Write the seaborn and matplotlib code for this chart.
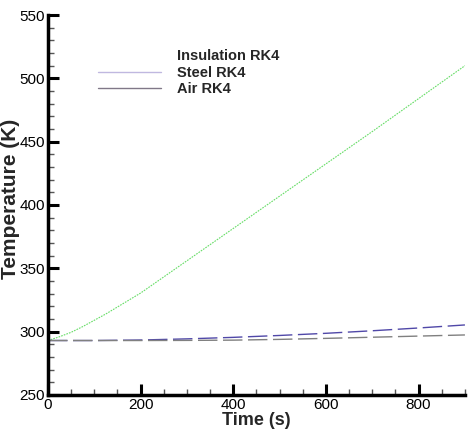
import matplotlib
matplotlib.use("Agg")
import matplotlib.pyplot as plt
import seaborn as sns
import pandas as pd
from matplotlib.ticker import MultipleLocator

time_s = [0, 25, 50, 75, 100, 125, 150, 200, 300, 400, 500, 600, 700, 800, 900]
insulation = [293, 296, 299.5, 304, 309, 314, 319.5, 330.5, 356, 381.5, 407, 432.5, 458, 484, 510]
steel = [293, 293, 293, 293, 293, 293.1, 293.2, 293.4, 294.3, 295.5, 297, 298.7, 300.7, 302.9, 305.3]
air = [293, 293, 293, 293, 293, 293, 293, 293, 293.1, 293.3, 293.9, 294.7, 295.6, 296.5, 297.4]
labels = ["Insulation RK4", "Steel RK4", "Air RK4"]

df = pd.DataFrame({"t": time_s, "ins": insulation, "steel": steel, "air": air})

sns.set_style("white")
plt.rcParams["font.family"] = ["Liberation Sans", "DejaVu Sans"]

fig = plt.figure(figsize=(4.72, 4.34), dpi=100)
ax = fig.add_axes([0.1017, 0.0899, 0.8833, 0.8755])

sns.lineplot(data=df, x="t", y="ins", ax=ax, label=labels[0], color="#66dd66",
             linewidth=0.8, linestyle=(0, (1.5, 1)))
sns.lineplot(data=df, x="t", y="steel", ax=ax, label=labels[1], color="#5048a8",
             linewidth=1.0, linestyle=(0, (14, 4)))
sns.lineplot(data=df, x="t", y="air", ax=ax, label=labels[2], color="#808080",
             linewidth=1.0, linestyle=(0, (14, 4)))

ax.set_xlim(0, 900)
ax.set_ylim(250, 550)
ax.xaxis.set_major_locator(MultipleLocator(200))
ax.xaxis.set_minor_locator(MultipleLocator(50))
ax.yaxis.set_major_locator(MultipleLocator(50))
ax.yaxis.set_minor_locator(MultipleLocator(10))

for s in ["top", "right"]:
    ax.spines[s].set_visible(False)
for s in ["left", "bottom"]:
    ax.spines[s].set_linewidth(2.5)
    ax.spines[s].set_color("black")

ax.tick_params(which="major", direction="in", length=8, width=2.2, labelsize=11,
               pad=2, colors="black")
ax.tick_params(which="minor", direction="in", length=4.5, width=1.0, colors="#555555")
ax.tick_params(axis="x", which="both", bottom=True)
ax.tick_params(axis="y", which="both", left=True)

ax.set_xlabel("Time (s)", fontsize=13, fontweight="bold", labelpad=0)
ax.set_ylabel("Temperature (K)", fontsize=15, fontweight="bold")
ax.yaxis.set_label_coords(-0.068, 0.515)

leg = ax.legend(loc="upper left", bbox_to_anchor=(0.088, 0.945), frameon=False,
                prop={"weight": "bold", "size": 10.5}, handlelength=4.35,
                handletextpad=1.05, labelspacing=0.18)
handles = leg.legend_handles
handles[0].set_visible(False)
handles[1].set_color("#c0b8e0")
handles[1].set_linestyle("-")
handles[2].set_color("#807888")
handles[2].set_linestyle("-")

fig.savefig("out.png", dpi=100)
